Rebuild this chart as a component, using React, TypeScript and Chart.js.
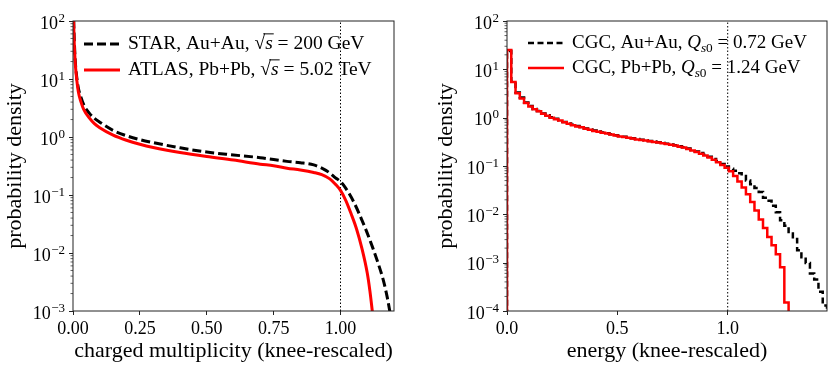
import React, { useEffect, useRef } from "react";
import { Chart, registerables } from "chart.js";

Chart.register(...registerables);

const FONT = "'Liberation Serif', 'DejaVu Serif', serif";

// ---------- Left panel: charged multiplicity ----------
const STAR_X = [0, 0.004, 0.008, 0.012, 0.02, 0.03, 0.04, 0.06, 0.08, 0.1, 0.15, 0.2, 0.25, 0.3, 0.4, 0.5, 0.6, 0.7, 0.8, 0.85, 0.9, 0.93, 0.96, 0.98, 1.0, 1.02, 1.05, 1.08, 1.1, 1.12, 1.14, 1.16, 1.175, 1.19];
const STAR_Y = [300, 60, 22, 13, 7, 4.8, 3.6, 2.6, 2.1, 1.8, 1.3, 1.05, 0.9, 0.8, 0.65, 0.55, 0.49, 0.44, 0.38, 0.36, 0.33, 0.29, 0.24, 0.2, 0.17, 0.13, 0.075, 0.037, 0.022, 0.0125, 0.0068, 0.0034, 0.0017, 0.0007];
const ATLAS_X = [0, 0.004, 0.008, 0.012, 0.02, 0.03, 0.04, 0.06, 0.08, 0.1, 0.15, 0.2, 0.25, 0.3, 0.4, 0.5, 0.6, 0.7, 0.75, 0.8, 0.85, 0.9, 0.93, 0.96, 0.98, 1.0, 1.02, 1.04, 1.06, 1.08, 1.1, 1.11, 1.12];
const ATLAS_Y = [300, 50, 20, 12, 6, 4, 3.0, 2.15, 1.7, 1.45, 1.08, 0.88, 0.75, 0.66, 0.54, 0.46, 0.4, 0.34, 0.32, 0.29, 0.27, 0.245, 0.225, 0.19, 0.155, 0.12, 0.08, 0.047, 0.026, 0.012, 0.0045, 0.0022, 0.0009];

// ---------- Right panel: energy histograms ----------
const E_MAX = 1.45;
const N_BINS = 75;
const CGC_AU = [
  24, 5.6, 3.3, 2.6, 2.05, 1.75, 1.52, 1.37, 1.22, 1.12,
  1.02, 0.95, 0.88, 0.81, 0.76, 0.71, 0.67, 0.64, 0.6, 0.57,
  0.54, 0.515, 0.495, 0.475, 0.455, 0.435, 0.42, 0.405, 0.39, 0.375,
  0.36, 0.35, 0.34, 0.33, 0.32, 0.31, 0.3, 0.29, 0.28, 0.27,
  0.255, 0.245, 0.23, 0.215, 0.2, 0.185, 0.17, 0.155, 0.14, 0.125,
  0.11, 0.098, 0.088, 0.08, 0.071, 0.062, 0.05, 0.042, 0.035, 0.029,
  0.022, 0.019, 0.015, 0.011, 0.0075, 0.0058, 0.004, 0.0031, 0.0018, 0.0013,
  0.00098, 0.0006, 0.00045, 0.00025, 0.00013,
];
const CGC_PB = [
  25, 5.5, 3.2, 2.5, 2.0, 1.7, 1.5, 1.35, 1.2, 1.1,
  1.0, 0.93, 0.87, 0.8, 0.75, 0.7, 0.66, 0.63, 0.59, 0.56,
  0.53, 0.51, 0.49, 0.47, 0.45, 0.43, 0.41, 0.4, 0.385, 0.37,
  0.355, 0.345, 0.335, 0.325, 0.315, 0.305, 0.295, 0.285, 0.275, 0.265,
  0.25, 0.24, 0.225, 0.21, 0.195, 0.18, 0.165, 0.15, 0.135, 0.12,
  0.105, 0.092, 0.078, 0.062, 0.048, 0.036, 0.026, 0.018, 0.012, 0.0078,
  0.0052, 0.0034, 0.0023, 0.0015, 0.0008, 0.00015,
];

const KNEE = 1.0;

type Seg = { t: string; it?: boolean; sub?: boolean; over?: boolean };
const LEFT_LEGEND: Seg[][] = [
  [{ t: "STAR, Au+Au, " }, { t: "√" }, { t: "s", it: true, over: true }, { t: " = 200 GeV" }],
  [{ t: "ATLAS, Pb+Pb, " }, { t: "√" }, { t: "s", it: true, over: true }, { t: " = 5.02 TeV" }],
];
const RIGHT_LEGEND: Seg[][] = [
  [{ t: "CGC, Au+Au, " }, { t: "Q", it: true }, { t: "s", it: true, sub: true }, { t: "0", sub: true }, { t: " = 0.72 GeV" }],
  [{ t: "CGC, Pb+Pb, " }, { t: "Q", it: true }, { t: "s", it: true, sub: true }, { t: "0", sub: true }, { t: " = 1.24 GeV" }],
];

function decades(min: number, max: number) {
  const out: number[] = [];
  for (let e = Math.round(Math.log10(min)); e <= Math.round(Math.log10(max)); e++) out.push(Math.pow(10, e));
  return out;
}

function stepPoints(vals: number[], width: number) {
  const pts: { x: number; y: number }[] = [{ x: 0, y: 1e-9 }];
  vals.forEach((v, i) => pts.push({ x: i * width, y: v }));
  pts.push({ x: vals.length * width, y: 1e-9 });
  return pts;
}

function drawRich(ctx: CanvasRenderingContext2D, segs: Seg[], x: number, y: number, size: number) {
  ctx.fillStyle = "#000";
  ctx.textBaseline = "middle";
  ctx.textAlign = "left";
  let sqrtStart: number | null = null;
  for (const s of segs) {
    const fs = s.sub ? size * 0.7 : size;
    ctx.font = `${s.it ? "italic " : ""}${fs}px ${FONT}`;
    const dy = s.sub ? size * 0.28 : 0;
    if (s.t === "√") sqrtStart = x;
    ctx.fillText(s.t, x, y + dy);
    const w = ctx.measureText(s.t).width;
    if (s.over && sqrtStart !== null) {
      ctx.save();
      ctx.strokeStyle = "#000";
      ctx.lineWidth = 1;
      ctx.setLineDash([]);
      ctx.beginPath();
      const oy = y - size * 0.52;
      ctx.moveTo(sqrtStart + size * 0.45, oy);
      ctx.lineTo(x + w + 1, oy);
      ctx.stroke();
      ctx.restore();
      sqrtStart = null;
    }
    x += w;
  }
}

function makeLegendPlugin(items: { ds: number; segs: Seg[] }[], o: { left: number; top: number; gap: number; sample: number; textGap: number; size: number }) {
  return {
    id: "richLegend",
    afterDatasetsDraw(chart: any) {
      const { ctx, chartArea } = chart;
      items.forEach((it, i) => {
        const ds = chart.data.datasets[it.ds];
        const y = chartArea.top + o.top + i * o.gap;
        const x0 = chartArea.left + o.left;
        ctx.save();
        ctx.strokeStyle = ds.borderColor;
        ctx.lineWidth = ds.borderWidth;
        ctx.setLineDash(ds.borderDash || []);
        ctx.beginPath();
        ctx.moveTo(x0, y);
        ctx.lineTo(x0 + o.sample, y);
        ctx.stroke();
        ctx.setLineDash([]);
        drawRich(ctx, it.segs, x0 + o.sample + o.textGap, y, o.size);
        ctx.restore();
      });
    },
  };
}

// frame, log-axis tick marks and "10^n" labels
const framePlugin = {
  id: "frame",
  afterDatasetsDraw(chart: any) {
    const { ctx, chartArea: a, scales } = chart;
    ctx.save();
    ctx.strokeStyle = "#222";
    ctx.lineWidth = 1;
    ctx.setLineDash([]);
    ctx.strokeRect(a.left, a.top, a.right - a.left, a.bottom - a.top);
    const y = scales.y;
    const e0 = Math.round(Math.log10(y.min));
    const e1 = Math.round(Math.log10(y.max));
    // minor ticks
    ctx.lineWidth = 0.7;
    ctx.beginPath();
    for (let e = e0; e < e1; e++) {
      for (let m = 2; m <= 9; m++) {
        const py = y.getPixelForValue(m * Math.pow(10, e));
        ctx.moveTo(a.left - 2.5, py);
        ctx.lineTo(a.left, py);
      }
    }
    ctx.stroke();
    // major ticks + labels
    ctx.lineWidth = 1;
    ctx.beginPath();
    y.ticks.forEach((t: any) => {
      const py = Math.round(y.getPixelForValue(t.value)) + 0.5;
      ctx.moveTo(a.left - 4, py);
      ctx.lineTo(a.left, py);
    });
    ctx.stroke();
    ctx.fillStyle = "#000";
    ctx.textBaseline = "alphabetic";
    ctx.textAlign = "left";
    y.ticks.forEach((t: any) => {
      const py = y.getPixelForValue(t.value);
      const e = Math.round(Math.log10(t.value));
      const exp = e < 0 ? "−" + Math.abs(e) : String(e);
      ctx.font = `18px ${FONT}`;
      const wBase = ctx.measureText("10").width;
      ctx.font = `13px ${FONT}`;
      const wExp = ctx.measureText(exp).width;
      const xEnd = a.left - 8;
      const x0 = xEnd - wExp - wBase - 0.5;
      ctx.font = `18px ${FONT}`;
      ctx.fillText("10", x0, py + 7.5);
      ctx.font = `13px ${FONT}`;
      ctx.fillText(exp, x0 + wBase + 0.5, py + 0.5);
    });
    ctx.restore();
  },
};

function makeOptions(p: { xMax: number; xStep: number; xDigits: number; xTitle: string; yMin: number; yMax: number; yWidth: number; yTitlePad: number; padRight: number }) {
  return {
    animation: false,
    responsive: false,
    layout: { padding: { left: 0, right: p.padRight, top: 21, bottom: 0 } },
    plugins: { legend: { display: false }, tooltip: { enabled: false } },
    scales: {
      x: {
        type: "linear",
        min: 0,
        max: p.xMax,
        ticks: {
          stepSize: p.xStep,
          includeBounds: false,
          autoSkip: false,
          maxRotation: 0,
          padding: 3,
          color: "#000",
          font: { family: FONT, size: 18 },
          callback: (v: any) => Number(v).toFixed(p.xDigits),
        },
        grid: { display: true, drawOnChartArea: false, drawTicks: true, tickLength: 4, color: "#222", tickWidth: 1 },
        border: { display: false },
        title: { display: true, text: p.xTitle, color: "#000", font: { family: FONT, size: 22 }, padding: { top: 0, bottom: 16 } },
        afterFit: (s: any) => { s.height = 69; },
      },
      y: {
        type: "logarithmic",
        min: p.yMin,
        max: p.yMax,
        afterBuildTicks: (s: any) => { s.ticks = decades(p.yMin, p.yMax).map((v) => ({ value: v })); },
        ticks: { display: false },
        grid: { display: false },
        border: { display: false },
        title: { display: true, text: "probability density", color: "#000", font: { family: FONT, size: 22 }, padding: { top: p.yTitlePad, bottom: 0 } },
        afterFit: (s: any) => { s.width = p.yWidth; },
      },
    },
  };
}

function zipXY(xs: number[], ys: number[]) {
  return xs.map((x, i) => ({ x, y: ys[i] }));
}

export default function App() {
  const leftRef = useRef<HTMLCanvasElement>(null);
  const rightRef = useRef<HTMLCanvasElement>(null);

  useEffect(() => {
    const left = new Chart(leftRef.current as HTMLCanvasElement, {
      type: "line",
      data: {
        datasets: [
          { label: "STAR", data: zipXY(STAR_X, STAR_Y), borderColor: "#000", borderWidth: 3, borderDash: [9, 4], pointRadius: 0, cubicInterpolationMode: "monotone", order: 1 },
          { label: "ATLAS", data: zipXY(ATLAS_X, ATLAS_Y), borderColor: "#ff0000", borderWidth: 3, pointRadius: 0, cubicInterpolationMode: "monotone", order: 0 },
          { label: "", data: [{ x: KNEE, y: 1e-3 }, { x: KNEE, y: 1e2 }], borderColor: "#000", borderWidth: 1, borderDash: [1.5, 2], pointRadius: 0, order: 2 },
        ],
      } as any,
      options: makeOptions({ xMax: 1.2, xStep: 0.25, xDigits: 2, xTitle: "charged multiplicity (knee-rescaled)", yMin: 1e-3, yMax: 1e2, yWidth: 73, yTitlePad: 2, padRight: 21 }) as any,
      plugins: [framePlugin, makeLegendPlugin([{ ds: 0, segs: LEFT_LEGEND[0] }, { ds: 1, segs: LEFT_LEGEND[1] }], { left: 11, top: 23, gap: 26, sample: 36, textGap: 8, size: 19.5 })],
    });

    const w = E_MAX / N_BINS;
    const right = new Chart(rightRef.current as HTMLCanvasElement, {
      type: "line",
      data: {
        datasets: [
          { label: "CGC Au+Au", data: stepPoints(CGC_AU, w), stepped: "before", borderColor: "#000", borderWidth: 2.5, borderDash: [6, 3.5], pointRadius: 0, order: 1 },
          { label: "CGC Pb+Pb", data: stepPoints(CGC_PB, w), stepped: "before", borderColor: "#ff0000", borderWidth: 2.5, pointRadius: 0, order: 0 },
          { label: "", data: [{ x: KNEE, y: 1e-4 }, { x: KNEE, y: 1e2 }], borderColor: "#000", borderWidth: 1, borderDash: [1.5, 2], pointRadius: 0, order: 2 },
        ],
      } as any,
      options: makeOptions({ xMax: E_MAX, xStep: 0.5, xDigits: 1, xTitle: "energy (knee-rescaled)", yMin: 1e-4, yMax: 1e2, yWidth: 92, yTitlePad: 18, padRight: 3 }) as any,
      plugins: [framePlugin, makeLegendPlugin([{ ds: 0, segs: RIGHT_LEGEND[0] }, { ds: 1, segs: RIGHT_LEGEND[1] }], { left: 21, top: 22, gap: 25, sample: 36, textGap: 8, size: 19 })],
    });

    return () => {
      left.destroy();
      right.destroy();
    };
  }, []);

  return (
    <div style={{ position: "absolute", left: 0, top: 0, width: 830, height: 380, background: "#fff" }}>
      <canvas ref={leftRef} width={415} height={380} style={{ position: "absolute", left: 0, top: 0, width: 415, height: 380 }} />
      <canvas ref={rightRef} width={415} height={380} style={{ position: "absolute", left: 415, top: 0, width: 415, height: 380 }} />
    </div>
  );
}
